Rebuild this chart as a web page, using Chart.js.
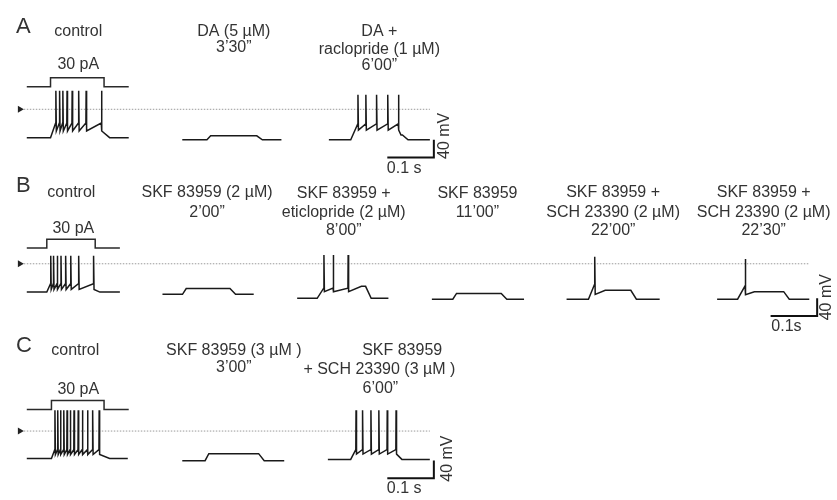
<!DOCTYPE html>
<html>
<head>
<meta charset="utf-8">
<title>Whole-cell recordings</title>
<script src="https://cdn.jsdelivr.net/npm/chart.js@4"></script>
<style>
    html, body { margin: 0; padding: 0; background: #fff; }
    #fig { display: block; }
</style>
</head>
<body>
<canvas id="fig" width="837" height="500"></canvas>
<script>
// sweeps: times in ms from sweep start, voltages in mV
const traceNames = ['A control', 'A DA 3’30”', 'A DA + raclopride 6’00”',
    'B control', 'B SKF 83959 2’00”', 'B SKF + eticlopride 8’00”', 'B SKF 83959 11’00”',
    'B SKF + SCH 23390 22’00”', 'B SKF + SCH 23390 22’30”',
    'C control', 'C SKF 83959 3’00”', 'C SKF + SCH 23390 6’00”'];
const stepOn      = [51, 53, 47, 43, 43, 43, 45, 47, 44, 53, 49, 49];
const stepOff     = [166, 160, 158, 145, 145, 147, 149, 138, 143, 166, 164, 147];
const sweepEnd    = [219, 213, 217, 200, 196, 196, 198, 200, 198, 217, 219, 219];
const restMv      = [-64, -69, -69, -64, -69, -78, -80, -80, -80, -62, -67, -64];
const plateauMv   = [null, -60, -58, null, -56, -51, -67, -60, -63, null, -51, null];
const plateauAt   = [null, 61, 155, null, 51, 138, 53, 83, 80, null, 57, null];
const thresholdMv = [-31, null, -33, -45, null, -55, null, -47, -50, -42, null, -42];
const ahpMv       = [-49, null, -47, -58, null, -63, null, -69, -70, -53, null, -52];
const peakMv      = [42, null, 33, 18, null, 20, null, 16, 11, 47, null, 47];
const spikeTimes = [
    [62, 70, 77, 86, 97, 111, 127, 160],
    [],
    [62, 79, 102, 126, 149],
    [51, 57, 65, 73, 83, 94, 111, 143],
    [],
    [57, 77, 109],
    [],
    [60],
    [60],
    [60, 66, 72, 79, 86, 93, 101, 110, 119, 130, 141, 155],
    [],
    [60, 74, 92, 109, 127, 146]
];

// injected current, one sweep per panel
const currentPa  = [30, 30, 30];
const currentOn  = [51, 43, 53];
const currentOff = [166, 147, 166];
const currentEnd = [219, 200, 219];

// scale bars
const barMs = 100;
const barMv = 40;

// layout (figure pixels)
const PX_PER_MS = 0.47, PX_PER_MV = 0.45, PX_PER_PA = 0.3;
const zeroMvY = [107, 264, 434];
const zeroPaY = [84, 248, 412];
const tracePanel = [0, 0, 0, 1, 1, 1, 1, 1, 1, 2, 2, 2];
const traceLeft = [23, 180, 328, 23, 160, 296, 432, 568, 720, 23, 180, 327];
const dottedSpan = [[20, 430], [20, 813], [20, 430]];
const arrowX = 16;
const barCorner = [[434, 156], [821, 317], [434, 482]];

const FONT = '"Liberation Sans", Arial, sans-serif';
const labels = [
    { t: 'A', x: 12, y: 23, size: 22, align: 'left' },
    { t: 'control', x: 75, y: 28 },
    { t: 'DA (5 µM)', x: 232, y: 28 }, { t: '3’30”', x: 232, y: 44 },
    { t: 'DA +', x: 379, y: 28 }, { t: 'raclopride (1 µM)', x: 379, y: 46 }, { t: '6’00”', x: 379, y: 63 },
    { t: '30 pA', x: 75, y: 62 },
    { t: '0.1 s', x: 404, y: 167 }, { t: '40 mV', x: 445, y: 134, rot: true },

    { t: 'B', x: 12, y: 185, size: 22, align: 'left' },
    { t: 'control', x: 68, y: 192 },
    { t: 'SKF 83959 (2 µM)', x: 205, y: 192 }, { t: '2’00”', x: 205, y: 212 },
    { t: 'SKF 83959 +', x: 343, y: 193 }, { t: 'eticlopride (2 µM)', x: 343, y: 212 }, { t: '8’00”', x: 343, y: 230 },
    { t: 'SKF 83959', x: 478, y: 193 }, { t: '11’00”', x: 478, y: 212 },
    { t: 'SKF 83959 +', x: 615, y: 192 }, { t: 'SCH 23390 (2 µM)', x: 615, y: 212 }, { t: '22’00”', x: 615, y: 230 },
    { t: 'SKF 83959 +', x: 767, y: 192 }, { t: 'SCH 23390 (2 µM)', x: 767, y: 212 }, { t: '22’30”', x: 767, y: 230 },
    { t: '30 pA', x: 70, y: 228 },
    { t: '0.1s', x: 790, y: 328 }, { t: '40 mV', x: 831, y: 298, rot: true },

    { t: 'C', x: 12, y: 348, size: 22, align: 'left' },
    { t: 'control', x: 72, y: 352 },
    { t: 'SKF 83959 (3 µM )', x: 232, y: 352 }, { t: '3’00”', x: 232, y: 370 },
    { t: 'SKF 83959', x: 402, y: 352 }, { t: '+ SCH 23390 (3 µM )', x: 379, y: 372 }, { t: '6’00”', x: 380, y: 391 },
    { t: '30 pA', x: 75, y: 392 },
    { t: '0.1 s', x: 404, y: 492 }, { t: '40 mV', x: 448, y: 462, rot: true }
];

// builds the [ms, mV] vertices of one sweep from the arrays above
function sweep(i) {
    const pts = [[0, restMv[i]], [stepOn[i], restMv[i]]];
    const spikes = spikeTimes[i];
    spikes.forEach((t) => {
        pts.push([t, thresholdMv[i]], [t + 0.5, peakMv[i]], [t + 1.5, ahpMv[i]]);
    });
    if (plateauMv[i] !== null) {
        pts.push([plateauAt[i], plateauMv[i]], [stepOff[i], plateauMv[i]]);
    }
    pts.push([stepOff[i] + 12, restMv[i]], [sweepEnd[i], restMv[i]]);
    return pts;
}

function currentSweep(p) {
    return [[0, 0], [currentOn[p], 0], [currentOn[p], currentPa[p]],
        [currentOff[p], currentPa[p]], [currentOff[p], 0], [currentEnd[p], 0]];
}

const datasets = [];

traceNames.forEach((name, i) => {
    const p = tracePanel[i];
    datasets.push({
        label: name,
        data: sweep(i).map(([t, v]) => ({ x: traceLeft[i] + t * PX_PER_MS, y: zeroMvY[p] - v * PX_PER_MV })),
        borderColor: '#1a1a1a', borderWidth: 1.5, order: 1
    });
});

['A', 'B', 'C'].forEach((panel, p) => {
    datasets.push({
        label: panel + ' 30 pA step',
        data: currentSweep(p).map(([t, a]) => ({ x: traceLeft[0] + t * PX_PER_MS, y: zeroPaY[p] - a * PX_PER_PA })),
        borderColor: '#2a2a2a', borderWidth: 1.5, order: 1
    });
    datasets.push({
        label: panel + ' 0 mV',
        data: dottedSpan[p].map((x) => ({ x: x, y: zeroMvY[p] })),
        borderColor: '#9a9a9a', borderWidth: 1, borderDash: [1.5, 1.5], order: 2
    });
    datasets.push({
        label: panel + ' marker',
        data: [{ x: arrowX, y: zeroMvY[p] }],
        showLine: false, pointRadius: 4, pointStyle: 'triangle', rotation: 90,
        pointBackgroundColor: '#222', pointBorderColor: '#222', pointBorderWidth: 0, order: 1
    });
    const [cx, cy] = barCorner[p];
    datasets.push({
        label: panel + ' scale',
        data: [{ x: cx - barMs * PX_PER_MS, y: cy }, { x: cx, y: cy }, { x: cx, y: cy - barMv * PX_PER_MV }],
        borderColor: '#111', borderWidth: 2, order: 1
    });
});

const textPlugin = {
    id: 'figureText',
    afterDatasetsDraw(chart) {
        const { ctx, scales } = chart;
        ctx.save();
        ctx.fillStyle = '#333';
        ctx.textBaseline = 'middle';
        labels.forEach((l) => {
            const x = scales.x.getPixelForValue(l.x);
            const y = scales.y.getPixelForValue(l.y);
            ctx.font = (l.size || 16) + 'px ' + FONT;
            ctx.textAlign = l.align || 'center';
            if (l.rot) {
                ctx.save();
                ctx.translate(x, y);
                ctx.rotate(-Math.PI / 2);
                ctx.fillText(l.t, 0, 0);
                ctx.restore();
            } else {
                ctx.fillText(l.t, x, y);
            }
        });
        ctx.restore();
    }
};

new Chart(document.getElementById('fig'), {
    type: 'scatter',
    data: { datasets: datasets },
    options: {
        responsive: false,
        animation: false,
        layout: { padding: 0 },
        showLine: true,
        elements: { point: { radius: 0 }, line: { tension: 0, fill: false } },
        scales: {
            x: { type: 'linear', min: 0, max: 837, display: false },
            y: { type: 'linear', min: 0, max: 500, reverse: true, display: false }
        },
        plugins: { legend: { display: false }, tooltip: { enabled: false } }
    },
    plugins: [textPlugin]
});
</script>
</body>
</html>
